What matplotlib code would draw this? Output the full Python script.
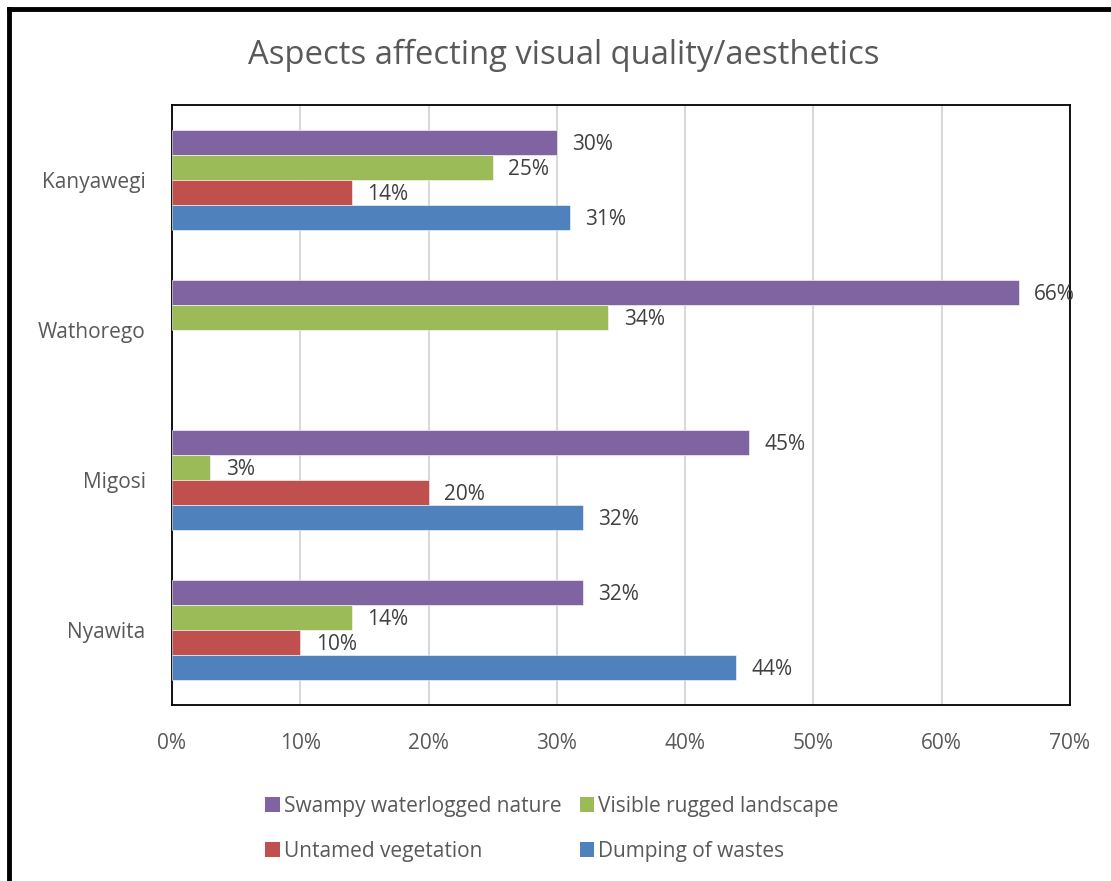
import numpy as np
import matplotlib
matplotlib.use("Agg")
import matplotlib.pyplot as plt
from matplotlib.lines import Line2D
from matplotlib.patches import Patch

plt.rcParams['font.family'] = ['Open Sans', 'DejaVu Sans']

categories = ["Nyawita", "Migosi", "Wathorego", "Kanyawegi"]
series_names = ["Swampy waterlogged nature", "Visible rugged landscape",
                "Untamed vegetation", "Dumping of wastes"]
swampy = [32, 45, 66, 30]
rugged = [14, 3, 34, 25]
untamed = [10, 20, np.nan, 14]
dumping = [44, 32, np.nan, 31]
xticks = [0, 10, 20, 30, 40, 50, 60, 70]

colors = ["#8064A2", "#9BBB59", "#C0504D", "#4F81BD"]
series = [swampy, rugged, untamed, dumping]

fig = plt.figure(figsize=(11.11, 8.81), dpi=100)
ax = fig.add_axes([172/1111, 1-705/881, (1070-172)/1111, (705-105)/881])

h = 1/6
offsets = [1.5*h, 0.5*h, -0.5*h, -1.5*h]
y = np.arange(len(categories))
for vals, c, off, name in zip(series, colors, offsets, series_names):
    v = np.array(vals, dtype=float)
    ax.barh(y + off, v, height=h, color=c, edgecolor='white', linewidth=0.4,
            label=name, zorder=3)
    for yi, vi in zip(y + off, v):
        if not np.isnan(vi):
            ax.text(vi + 1.2, yi - 0.012, f"{vi:.0f}%", va='center', ha='left',
                    fontsize=15, color='#404040', zorder=4)

ax.set_xlim(0, 70)
ax.set_ylim(-0.5, 3.5)
ax.set_xticks(xticks)
ax.set_xticklabels([f"{t}%" for t in xticks])
ax.set_yticks(y)
ax.set_yticklabels(categories)
ax.tick_params(axis='both', length=0, labelsize=15, labelcolor='#595959')
ax.tick_params(axis='x', pad=20.5)
ax.tick_params(axis='y', pad=19)
ax.grid(axis='x', color='#D9D9D9', linewidth=1.5, zorder=0)
for s in ax.spines.values():
    s.set_color('black')
    s.set_linewidth(1.3)

fig.suptitle("Aspects affecting visual quality/aesthetics", x=564/1111, y=1-55/881,
             va='center', fontsize=23.6, color='#595959')

order = [0, 2, 1, 3]
handles = [Patch(facecolor=colors[i], edgecolor='none') for i in order]
labels = [series_names[i] for i in order]
fig.legend(handles, labels, ncol=2, loc='center', bbox_to_anchor=(552/1111, 1-829/881),
           frameon=False, fontsize=15, labelcolor='#595959', handlelength=0.7,
           handleheight=0.7, handletextpad=0.2, columnspacing=0.88, labelspacing=1.15)

# outer chart border (left and top visible)
fig.add_artist(Line2D([9/1111, 9/1111], [0, 1-9/881], color='black', lw=3.5,
                      transform=fig.transFigure))
fig.add_artist(Line2D([9/1111, 1], [1-9/881, 1-9/881], color='black', lw=3.5,
                      transform=fig.transFigure))

fig.savefig("out.png", dpi=100, facecolor='white')
